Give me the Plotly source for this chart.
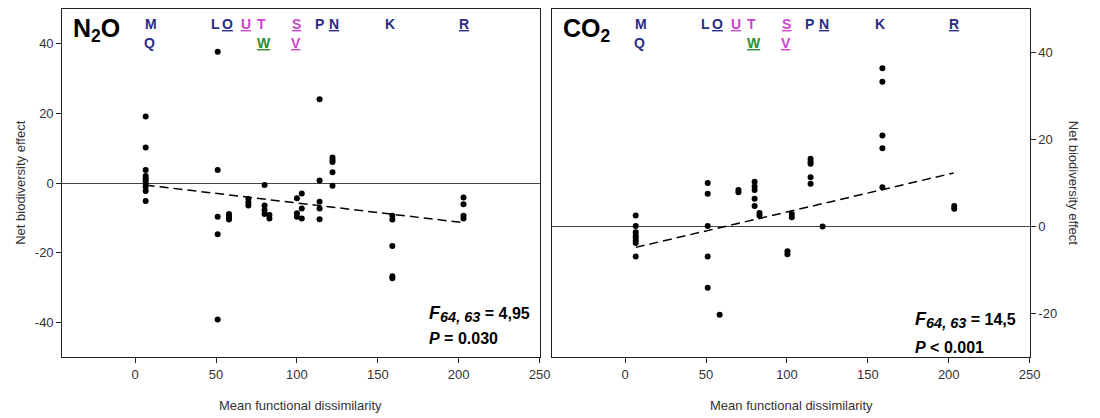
import plotly.graph_objects as go

# ---------------- data ----------------
n2o_x = [6.5]*10 + [51]*5 + [58]*4 + [70]*3 + [80]*4 + [83]*2 + [100]*3 + [103]*3 + [114]*5 + [122]*5 + [159]*5 + [203]*4
n2o_y = [19.1, 10.2, 3.7, 2.0, 1.3, 0.7, -0.1, -1.1, -2.3, -5.2,
         37.7, 3.7, -9.7, -14.7, -39.2,
         -8.9, -9.4, -9.9, -10.5,
         -4.6, -5.6, -6.5,
         -0.6, -6.5, -7.8, -8.9,
         -9.2, -10.2,
         -4.4, -8.7, -9.7,
         -3.0, -7.3, -10.2,
         24.1, 0.7, -5.4, -7.3, -10.4,
         7.3, 6.6, 6.0, 3.1, -0.8,
         -9.4, -10.5, -18.1, -26.8, -27.4,
         -4.2, -6.1, -9.4, -10.2]

co2_x = [6.5]*8 + [51]*5 + [58.4] + [70]*2 + [80]*5 + [83]*2 + [100.3]*2 + [103]*2 + [114.6]*5 + [122] + [159]*5 + [203.4]*2
co2_y = [2.5, 0.1, -1.3, -2.1, -2.6, -3.2, -3.8, -6.9,
         10.0, 7.5, 0.1, -6.9, -14.1,
         -20.3,
         8.4, 7.9,
         10.3, 9.2, 8.4, 6.4, 4.7,
         3.1, 2.5,
         -5.7, -6.4,
         2.9, 2.1,
         15.6, 14.9, 14.4, 11.3, 9.8,
         0.0,
         36.4, 33.3, 20.9, 18.0, 9.0,
         4.7, 4.1]

n2o_trend_x = [6.5, 203]
n2o_trend_y = [-0.6, -11.4]
co2_trend_x = [6.5, 203]
co2_trend_y = [-4.8, 12.3]

x_ticks = [0, 50, 100, 150, 200, 250]
n2o_ticks = [-40, -20, 0, 20, 40]
co2_ticks = [-20, 0, 20, 40]

letters = ["M", "Q", "L", "O", "U", "T", "W", "S", "V", "P", "N", "K", "R"]
letter_x = [9.8, 8.6, 49.6, 56.9, 68.5, 78.2, 79.4, 99.6, 99.6, 113.7, 122.9, 157.7, 203]
letter_row = [1, 2, 1, 1, 1, 1, 2, 1, 2, 1, 1, 1, 1]
letter_grp = ["b", "b", "b", "b", "m", "m", "g", "m", "m", "b", "b", "b", "b"]
letter_ul = [False, False, False, True, True, False, True, True, True, False, True, False, True]

SUB = "<sub><span style='font-size:14.5px'><i>64, 63</i></span></sub>"
FBIG = "<span style='font-size:18px'><i>F</i></span>"
stat_n2o = [f"<b>{FBIG}{SUB} = 4,95</b>", "<b><i>P</i> = 0.030</b>"]
stat_co2 = [f"<b>{FBIG}{SUB} = 14,5</b>", "<b><i>P</i> &lt; 0.001</b>"]

# ---------------- figure ----------------
W, H = 1100, 418
FONT = "Liberation Sans, Arial, sans-serif"
colors = {"b": "#2b2b85", "m": "#cc44cc", "g": "#2e8b2e"}

fig = go.Figure()
fig.add_trace(go.Scatter(x=n2o_x, y=n2o_y, mode="markers",
                         marker=dict(color="black", size=6), xaxis="x", yaxis="y"))
fig.add_trace(go.Scatter(x=n2o_trend_x, y=n2o_trend_y, mode="lines",
                         line=dict(color="black", width=1.5, dash="9px,5px"), xaxis="x", yaxis="y"))
fig.add_trace(go.Scatter(x=co2_x, y=co2_y, mode="markers",
                         marker=dict(color="black", size=6), xaxis="x2", yaxis="y2"))
fig.add_trace(go.Scatter(x=co2_trend_x, y=co2_trend_y, mode="lines",
                         line=dict(color="black", width=1.5, dash="9px,5px"), xaxis="x2", yaxis="y2"))

ydom = [1 - 357 / H, 1 - 9 / H]
axis_common = dict(showline=True, linecolor="#222", linewidth=1.3, mirror=True,
                   ticks="outside", ticklen=5, tickcolor="#222", showgrid=False,
                   tickfont=dict(family=FONT, size=13, color="#333"))

fig.update_layout(
    width=W, height=H, autosize=False, margin=dict(l=0, r=0, t=0, b=0),
    plot_bgcolor="white", paper_bgcolor="white", showlegend=False,
    xaxis=dict(domain=[63 / W, 545 / W], range=[-45, 250], tickvals=x_ticks,
               ticktext=[str(v) for v in x_ticks],
               zeroline=False, anchor="y", **axis_common),
    yaxis=dict(domain=ydom, range=[-50, 50], tickvals=n2o_ticks, anchor="x",
               ticktext=[str(v) for v in n2o_ticks],
               zeroline=True, zerolinecolor="#444", zerolinewidth=1, **axis_common),
    xaxis2=dict(domain=[558 / W, 1040 / W], range=[-45, 250], tickvals=x_ticks,
                ticktext=[str(v) for v in x_ticks],
                zeroline=False, anchor="y2", **axis_common),
    yaxis2=dict(domain=ydom, range=[-30, 50], tickvals=co2_ticks, anchor="x2", side="right",
                ticktext=[str(v) for v in co2_ticks],
                zeroline=True, zerolinecolor="#444", zerolinewidth=1, **axis_common),
)

ann = []
ann.append(dict(text="<b>N<sub>2</sub>O</b>", x=72 / W, y=1 - 12 / H, xref="paper", yref="paper",
                xanchor="left", yanchor="top", showarrow=False,
                font=dict(family=FONT, size=25, color="black")))
ann.append(dict(text="<b>CO<sub>2</sub></b>", x=567 / W, y=1 - 12 / H, xref="paper", yref="paper",
                xanchor="left", yanchor="top", showarrow=False,
                font=dict(family=FONT, size=25, color="black")))
for xr in ["x", "x2"]:
    for t, lx, r, g, u in zip(letters, letter_x, letter_row, letter_grp, letter_ul):
        txt = f"<b>{t}</b>"
        if u:
            txt = f"<u>{txt}</u>"
        ann.append(dict(text=txt, x=lx, xref=xr, y=1 - (24 if r == 1 else 43) / H, yref="paper",
                        xanchor="center", yanchor="middle", showarrow=False,
                        font=dict(family=FONT, size=14, color=colors[g])))
for txts, x0, ys in [(stat_n2o, 431, (314, 338)), (stat_co2, 922, (320, 347))]:
    for t, yy in zip(txts, ys):
        ann.append(dict(text=t, x=x0 / W, y=1 - yy / H, xref="paper", yref="paper",
                        xanchor="left", yanchor="middle", showarrow=False,
                        font=dict(family=FONT, size=16, color="black")))
for cx in [304, 799]:
    ann.append(dict(text="Mean functional dissimilarity", x=cx / W, y=1 - 405 / H,
                    xref="paper", yref="paper", xanchor="center", yanchor="middle",
                    showarrow=False, font=dict(family=FONT, size=13, color="#333")))
ann.append(dict(text="Net biodiversity effect", x=20 / W, y=1 - 183 / H, xref="paper", yref="paper",
                xanchor="center", yanchor="middle", textangle=-90, showarrow=False,
                font=dict(family=FONT, size=13, color="#333")))
ann.append(dict(text="Net biodiversity effect", x=1085 / W, y=1 - 183 / H, xref="paper", yref="paper",
                xanchor="center", yanchor="middle", textangle=90, showarrow=False,
                font=dict(family=FONT, size=13, color="#333")))
fig.update_layout(annotations=ann)

fig.write_html("out.html", config={"displayModeBar": False, "responsive": False},
               post_script="document.documentElement.style.overflow='hidden';document.body.style.margin='0';document.body.style.overflow='hidden';")
